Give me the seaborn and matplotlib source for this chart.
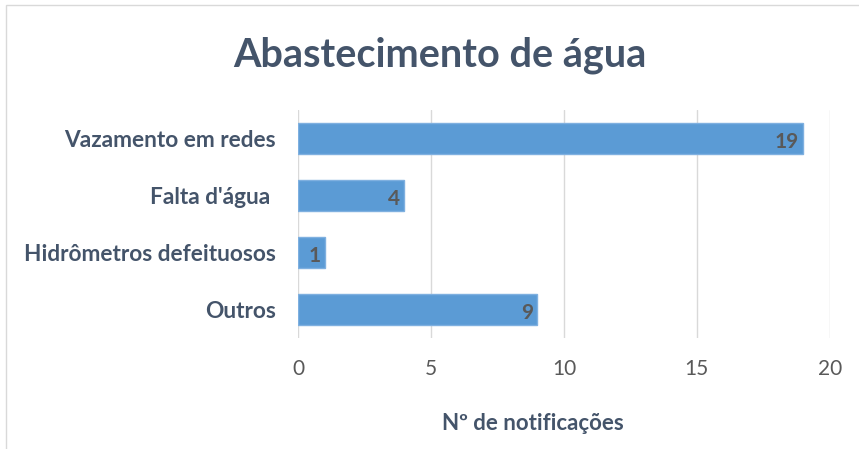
import matplotlib
matplotlib.use("Agg")
import matplotlib.pyplot as plt
import seaborn as sns
import pandas as pd
from matplotlib.patches import Rectangle

# data
categorias = ["Vazamento em redes", "Falta d'água ", "Hidrômetros defeituosos", "Outros"]
notificacoes = [19, 4, 1, 9]
ticks_x = [0, 5, 10, 15, 20]

df = pd.DataFrame({"categoria": categorias, "n": notificacoes})

sns.set_style("white")
plt.rcParams["font.family"] = ["Lato", "DejaVu Sans"]

fig = plt.figure(figsize=(8.59, 4.49), dpi=100)
ax = fig.add_axes([0.347, 0.247, 0.619, 0.508])

sns.barplot(data=df, x="n", y="categoria", orient="h", color="#5B9BD5",
            width=0.53, edgecolor="#7FB0E0", linewidth=1, saturation=1, ax=ax)

ax.set_xlim(0, 20)
ax.set_ylim(3.5, -0.5)
ax.set_xticks(ticks_x)
ax.xaxis.grid(True, color="#D9D9D9", linewidth=1)
ax.set_axisbelow(True)
for s in ax.spines.values():
    s.set_visible(False)

ax.tick_params(axis="x", length=0, pad=15, labelsize=15, labelcolor="#595959")
ax.tick_params(axis="y", length=0, pad=16, labelsize=16.3)
for lbl in ax.get_yticklabels():
    lbl.set_fontweight("bold")
    lbl.set_color("#44546A")

for i, v in enumerate(notificacoes):
    ax.text(v - 0.15, i + 0.06, str(v), ha="right", va="center",
            fontsize=15, fontweight="bold", color="#595959")

ax.set_ylabel("")
ax.set_xlabel("Nº de notificações", fontsize=16, fontweight="bold",
              color="#44546A", labelpad=24)
ax.xaxis.set_label_coords(0.442, -0.33)

fig.text(0.512, 0.876, "Abastecimento de água", ha="center", va="center",
         fontsize=28.5, fontweight="bold", color="#44546A")

# outer chart border
fig.patches.append(Rectangle((6 / 859, -0.05), 1.0, 1 - 5 / 449 + 0.05,
                             transform=fig.transFigure, fill=False,
                             edgecolor="#D9D9D9", linewidth=1))

fig.savefig("out.png", dpi=100, facecolor="white")
